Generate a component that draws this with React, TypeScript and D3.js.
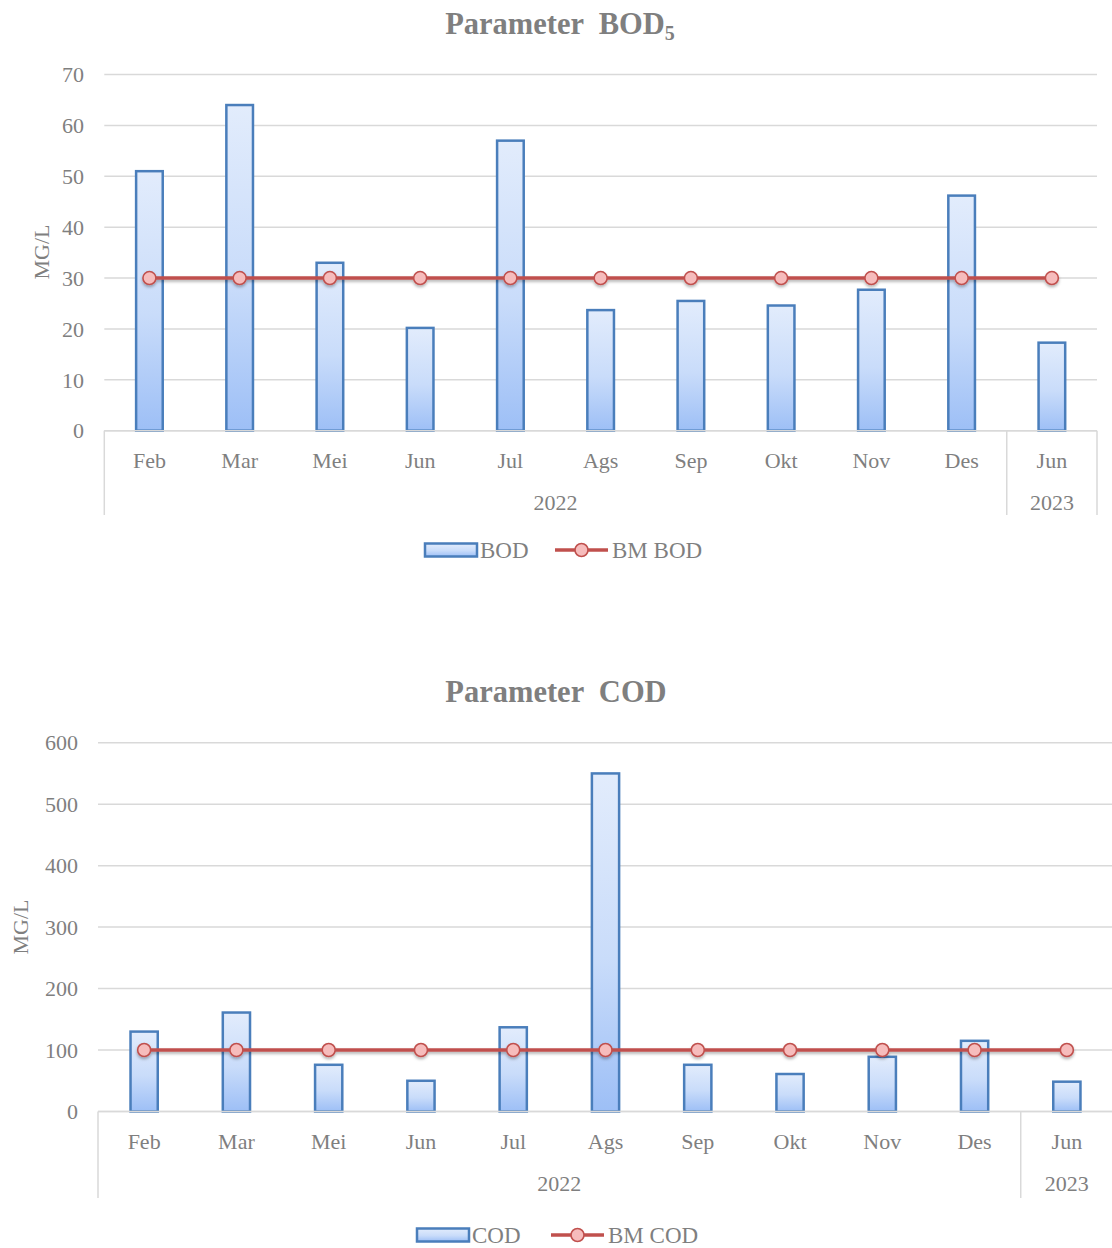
import React from "react";
import * as d3 from "d3";

// Sampling months and the year each belongs to
const months = ["Feb", "Mar", "Mei", "Jun", "Jul", "Ags", "Sep", "Okt", "Nov", "Des", "Jun"];
const years = ["2022", "2022", "2022", "2022", "2022", "2022", "2022", "2022", "2022", "2022", "2023"];

// BOD5 measurements and the quality standard (baku mutu)
const bodValues = [51, 64, 33, 20.2, 57, 23.7, 25.5, 24.6, 27.7, 46.2, 17.3];
const bmBodValues = [30, 30, 30, 30, 30, 30, 30, 30, 30, 30, 30];
const bodTicks = [0, 10, 20, 30, 40, 50, 60, 70];

// COD measurements and the quality standard
const codValues = [130, 161, 76, 50, 137, 550, 76, 61, 89, 115, 48.5];
const bmCodValues = [100, 100, 100, 100, 100, 100, 100, 100, 100, 100, 100];
const codTicks = [0, 100, 200, 300, 400, 500, 600];

const FONT = "'Liberation Serif', 'Times New Roman', serif";
const TEXT = "#7f7f7f";
const GRID = "#d9d9d9";
const BAR_STROKE = "#4a7ebb";
const LINE = "#c0504d";

type Layout = {
  id: string;
  left: number;
  right: number;
  yTop: number;
  yZero: number;
  titleX: number;
  titleY: number;
  groupBottom: number;
  monthY: number;
  yearY: number;
  axisTitleX: number;
  axisTitleY: number;
  tickRight: number;
  legendY: number;
  legendBarX: number;
  legendLineX: number;
};

type ChartProps = {
  layout: Layout;
  title: string;
  sub?: string;
  values: number[];
  limits: number[];
  ticks: number[];
  barName: string;
  lineName: string;
};

function Chart({ layout: L, title, sub, values, limits, ticks, barName, lineName }: ChartProps) {
  const idx = months.map((_, i) => i);
  const x = d3.scaleBand<number>().domain(idx).range([L.left, L.right]).padding(0);
  const y = d3
    .scaleLinear()
    .domain([0, ticks[ticks.length - 1]])
    .range([L.yZero, L.yTop]);
  const bw = x.bandwidth() * 0.295;
  const cx = (i: number) => (x(i) as number) + x.bandwidth() / 2;

  const line = d3
    .line<number>()
    .x((_, i) => cx(i))
    .y((d) => y(d));

  // year groups along the category axis
  const groups: { year: string; start: number; end: number }[] = [];
  years.forEach((yr, i) => {
    const last = groups[groups.length - 1];
    if (last && last.year === yr) last.end = i;
    else groups.push({ year: yr, start: i, end: i });
  });

  const gradId = `grad-${L.id}`;
  const shadowId = `shadow-${L.id}`;
  const fs = 22;
  const legendFs = 23;

  return (
    <g>
      <defs>
        <linearGradient id={gradId} x1="0" y1="0" x2="0" y2="1">
          <stop offset="0%" stopColor="#e2ecfc" />
          <stop offset="55%" stopColor="#c9dcfa" />
          <stop offset="100%" stopColor="#9dbff6" />
        </linearGradient>
        <filter id={shadowId} x="-5%" y="-50%" width="110%" height="200%">
          <feDropShadow dx="0" dy="2" stdDeviation="1.4" floodColor="#000" floodOpacity="0.3" />
        </filter>
      </defs>

      {/* title */}
      <text
        x={L.titleX}
        y={L.titleY}
        textAnchor="middle"
        fontFamily={FONT}
        fontWeight="bold"
        fontSize={30.5}
        fill={TEXT}
        style={{ whiteSpace: "pre" }}
      >
        {title}
        {sub ? (
          <tspan fontSize={20} dy={6}>
            {sub}
          </tspan>
        ) : null}
      </text>

      {/* gridlines */}
      {ticks.map((t) => (
        <line
          key={`g${t}`}
          x1={L.left}
          x2={L.right}
          y1={y(t)}
          y2={y(t)}
          stroke={GRID}
          strokeWidth={1.5}
        />
      ))}

      {/* y tick labels */}
      {ticks.map((t) => (
        <text
          key={`t${t}`}
          x={L.tickRight}
          y={y(t)}
          dy="0.35em"
          textAnchor="end"
          fontFamily={FONT}
          fontSize={fs}
          fill={TEXT}
        >
          {t}
        </text>
      ))}

      {/* y axis title */}
      <text
        transform={`translate(${L.axisTitleX},${L.axisTitleY}) rotate(-90)`}
        textAnchor="middle"
        dy="0.35em"
        fontFamily={FONT}
        fontSize={fs}
        fill={TEXT}
      >
        MG/L
      </text>

      {/* bars */}
      {values.map((v, i) => (
        <rect
          key={`b${i}`}
          x={cx(i) - bw / 2}
          y={y(v)}
          width={bw}
          height={y(0) - y(v)}
          fill={`url(#${gradId})`}
          stroke={BAR_STROKE}
          strokeWidth={2.5}
        />
      ))}

      {/* category axis with year grouping */}
      <line x1={L.left} x2={L.right} y1={L.yZero} y2={L.yZero} stroke={GRID} strokeWidth={1.5} />
      <line x1={L.left} x2={L.left} y1={L.yZero} y2={L.groupBottom} stroke={GRID} strokeWidth={1.5} />
      {groups.map((g) => (
        <line
          key={`sep${g.year}`}
          x1={(x(g.end) as number) + x.bandwidth()}
          x2={(x(g.end) as number) + x.bandwidth()}
          y1={L.yZero}
          y2={L.groupBottom}
          stroke={GRID}
          strokeWidth={1.5}
        />
      ))}
      {months.map((m, i) => (
        <text
          key={`m${i}`}
          x={cx(i)}
          y={L.monthY}
          dy="0.35em"
          textAnchor="middle"
          fontFamily={FONT}
          fontSize={fs}
          fill={TEXT}
        >
          {m}
        </text>
      ))}
      {groups.map((g) => (
        <text
          key={`yr${g.year}`}
          x={((x(g.start) as number) + (x(g.end) as number) + x.bandwidth()) / 2}
          y={L.yearY}
          dy="0.35em"
          textAnchor="middle"
          fontFamily={FONT}
          fontSize={fs}
          fill={TEXT}
        >
          {g.year}
        </text>
      ))}

      {/* standard line */}
      <g filter={`url(#${shadowId})`}>
        <path d={line(limits) || ""} fill="none" stroke={LINE} strokeWidth={3.5} />
        {limits.map((v, i) => (
          <circle
            key={`c${i}`}
            cx={cx(i)}
            cy={y(v)}
            r={6.5}
            fill="#f6bcbc"
            stroke={LINE}
            strokeWidth={1.6}
          />
        ))}
      </g>

      {/* legend */}
      <rect
        x={L.legendBarX}
        y={L.legendY - 6.5}
        width={52}
        height={13}
        fill={`url(#${gradId})`}
        stroke={BAR_STROKE}
        strokeWidth={2.5}
      />
      <text
        x={L.legendBarX + 55}
        y={L.legendY}
        dy="0.35em"
        fontFamily={FONT}
        fontSize={legendFs}
        fill={TEXT}
      >
        {barName}
      </text>
      <line
        x1={L.legendLineX}
        x2={L.legendLineX + 53}
        y1={L.legendY}
        y2={L.legendY}
        stroke={LINE}
        strokeWidth={3.5}
      />
      <circle
        cx={L.legendLineX + 26.5}
        cy={L.legendY}
        r={6.5}
        fill="#f6bcbc"
        stroke={LINE}
        strokeWidth={1.6}
      />
      <text
        x={L.legendLineX + 57}
        y={L.legendY}
        dy="0.35em"
        fontFamily={FONT}
        fontSize={legendFs}
        fill={TEXT}
      >
        {lineName}
      </text>
    </g>
  );
}

const bodLayout: Layout = {
  id: "bod",
  left: 104.3,
  right: 1097,
  yTop: 74.5,
  yZero: 430.7,
  titleX: 560,
  titleY: 34,
  groupBottom: 515,
  monthY: 460,
  yearY: 502,
  axisTitleX: 41,
  axisTitleY: 252,
  tickRight: 84,
  legendY: 550,
  legendBarX: 425,
  legendLineX: 555,
};

const codLayout: Layout = {
  id: "cod",
  left: 98,
  right: 1113,
  yTop: 742.7,
  yZero: 1111.5,
  titleX: 556,
  titleY: 701.5,
  groupBottom: 1198,
  monthY: 1141.5,
  yearY: 1183,
  axisTitleX: 20,
  axisTitleY: 927,
  tickRight: 78,
  legendY: 1235,
  legendBarX: 417,
  legendLineX: 551,
};

export default function App() {
  return (
    <div style={{ position: "absolute", left: 0, top: 0 }}>
      <svg width={1112} height={1248} style={{ display: "block", background: "#fff" }}>
        <rect width={1112} height={1248} fill="#fff" />
        <Chart
          layout={bodLayout}
          title={"Parameter  BOD"}
          sub="5"
          values={bodValues}
          limits={bmBodValues}
          ticks={bodTicks}
          barName="BOD"
          lineName="BM BOD"
        />
        <Chart
          layout={codLayout}
          title={"Parameter  COD"}
          values={codValues}
          limits={bmCodValues}
          ticks={codTicks}
          barName="COD"
          lineName="BM COD"
        />
      </svg>
    </div>
  );
}
